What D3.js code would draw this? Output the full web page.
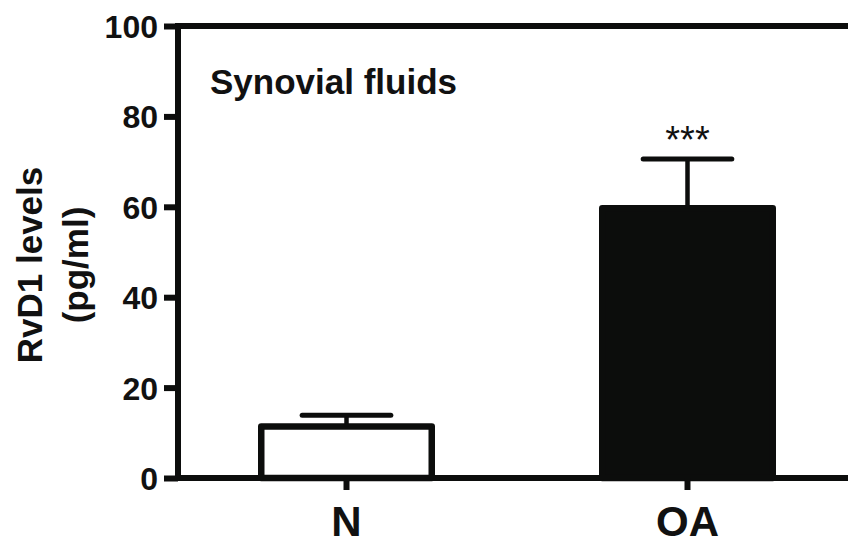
<!DOCTYPE html>
<html>
<head>
<meta charset="utf-8">
<script src="https://cdn.jsdelivr.net/npm/d3@7"></script>
<style>
  body { margin: 0; background: #fff; }
  text { font-family: Arial, "Liberation Sans", sans-serif; fill: #111; }
</style>
</head>
<body>
<svg id="chart"></svg>
<script>
const groups = ["N", "OA"];
const means = [11.4, 59.7];
const errors = [2.5, 10.9];
const barFills = ["#fff", "#0c0d0c"];
const yTicks = [0, 20, 40, 60, 80, 100];
const sigLabels = ["", "***"];

const width = 848;
const height = 546;
const ink = "#0c0d0c";

const svg = d3.select("#chart").attr("width", width).attr("height", height);

const x = d3.scaleBand().domain(groups).range([176, 858]).paddingInner(0.5).paddingOuter(0.25);
const y = d3.scaleLinear().domain([0, 100]).range([478, 26]);

// bars
svg.selectAll("rect.bar")
  .data(groups)
  .enter()
  .append("rect")
  .attr("class", "bar")
  .attr("x", d => x(d))
  .attr("y", (d, i) => y(means[i]))
  .attr("width", x.bandwidth())
  .attr("height", (d, i) => y(0) - y(means[i]))
  .attr("fill", (d, i) => barFills[i])
  .attr("stroke", ink)
  .attr("stroke-width", 6.5)
  .attr("stroke-linejoin", "round");

// error bars (upper only)
const capW = x.bandwidth() * 0.52;
groups.forEach((g, i) => {
  const cx = x(g) + x.bandwidth() / 2;
  svg.append("line")
    .attr("x1", cx).attr("x2", cx)
    .attr("y1", y(means[i])).attr("y2", y(means[i] + errors[i]))
    .attr("stroke", ink).attr("stroke-width", 4.5);
  svg.append("line")
    .attr("x1", cx - capW / 2).attr("x2", cx + capW / 2)
    .attr("y1", y(means[i] + errors[i])).attr("y2", y(means[i] + errors[i]))
    .attr("stroke", ink).attr("stroke-width", 5).attr("stroke-linecap", "round");
  if (sigLabels[i]) {
    svg.append("text")
      .attr("x", cx)
      .attr("y", y(means[i] + errors[i]) - 6)
      .attr("text-anchor", "middle")
      .style("font-size", "38px")
      .text(sigLabels[i]);
  }
});

// y axis
const yAxis = svg.append("g")
  .attr("transform", "translate(178,0)")
  .call(d3.axisLeft(y).tickValues(yTicks).tickSize(14).tickSizeOuter(0).tickPadding(6));
yAxis.select(".domain").attr("stroke", ink).attr("stroke-width", 6).attr("d", `M0,${y(100) - 3}V${y(0) + 3}`);
yAxis.selectAll(".tick line").attr("stroke", ink).attr("stroke-width", 6);
yAxis.selectAll(".tick text")
  .style("font-size", "32px").style("font-weight", "bold")
  .attr("fill", "#111").attr("dy", "0.36em");

// x axis
const xAxis = svg.append("g")
  .attr("transform", `translate(0,${y(0)})`)
  .call(d3.axisBottom(x).tickSize(12).tickSizeOuter(0).tickPadding(16));
xAxis.select(".domain").attr("stroke", ink).attr("stroke-width", 6).attr("d", `M175,0H${width}`);
xAxis.selectAll(".tick line").attr("stroke", ink).attr("stroke-width", 6);
xAxis.selectAll(".tick text")
  .style("font-size", "42px").style("font-weight", "bold").attr("fill", "#111");

// top frame line
svg.append("line")
  .attr("x1", 175).attr("x2", width)
  .attr("y1", y(100)).attr("y2", y(100))
  .attr("stroke", ink).attr("stroke-width", 6);

// inner title
svg.append("text")
  .attr("x", 210)
  .attr("y", 94)
  .style("font-size", "35px")
  .style("font-weight", "bold")
  .text("Synovial fluids");

// y label
const yl = svg.append("text")
  .attr("transform", "translate(0,265) rotate(-90)")
  .attr("text-anchor", "middle")
  .style("font-size", "35px")
  .style("font-weight", "bold");
yl.append("tspan").attr("x", 0).attr("y", 42).text("RvD1 levels");
yl.append("tspan").attr("x", 0).attr("y", 88).text("(pg/ml)");
</script>
</body>
</html>
